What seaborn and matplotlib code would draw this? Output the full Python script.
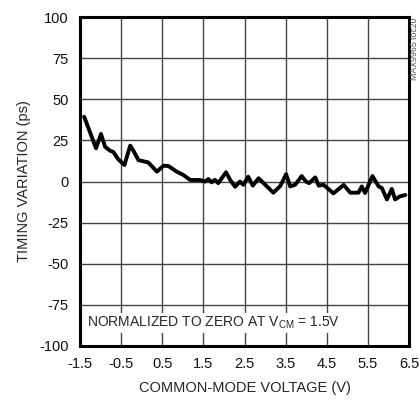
import numpy as np
import pandas as pd
import matplotlib
matplotlib.use("Agg")
import matplotlib.pyplot as plt
import seaborn as sns

# ----------------------------------
# Data
# ----------------------------------

voltage = [-1.40, -1.11, -0.99, -0.89, -0.77, -0.69, -0.57, -0.42, -0.28, -0.20,
           -0.08, 0.16, 0.37, 0.53, 0.65, 0.85, 1.01, 1.18, 1.42, 1.54,
           1.62, 1.70, 1.78, 1.86, 2.05, 2.15, 2.27, 2.39, 2.47, 2.59,
           2.70, 2.84, 3.20, 3.37, 3.51, 3.61, 3.73, 3.89, 3.99, 4.07,
           4.22, 4.30, 4.42, 4.66, 4.91, 5.07, 5.27, 5.35, 5.43, 5.61,
           5.76, 5.84, 5.96, 6.08, 6.16, 6.28, 6.41]
timing = [39.4, 20.2, 28.9, 21.1, 18.7, 18.0, 13.5, 10.0, 21.8, 18.7,
          13.0, 11.6, 6.0, 9.6, 9.4, 6.0, 4.0, 0.9, 0.9, 0.0,
          1.5, -0.5, 1.0, -1.0, 5.6, 1.0, -3.2, 0.0, -2.0, 2.9,
          -2.5, 2.0, -6.8, -2.7, 4.5, -3.0, -2.0, 3.3, 0.0, -1.0,
          2.5, -2.5, -2.0, -7.2, -2.1, -6.8, -6.8, -3.0, -7.0, 3.3,
          -3.0, -4.0, -10.9, -4.5, -10.9, -9.0, -8.2]

x_ticks = [-1.5, -0.5, 0.5, 1.5, 2.5, 3.5, 4.5, 5.5, 6.5]
y_ticks = [-100, -75, -50, -25, 0, 25, 50, 75, 100]

df = pd.DataFrame({"Voltage": voltage, "Timing": timing})

# ----------------------------------
# Style
# ----------------------------------

sns.set_style("white")
plt.rcParams["font.family"] = ["Liberation Sans", "DejaVu Sans"]
plt.rcParams["mathtext.fontset"] = "custom"
plt.rcParams["mathtext.rm"] = "Liberation Sans"

fig = plt.figure(figsize=(4.2, 4.05), dpi=100)
ax = fig.add_axes([0.1905, 0.1457, 0.7835, 0.8123])

# ----------------------------------
# Plot
# ----------------------------------

sns.lineplot(
    data=df,
    x="Voltage",
    y="Timing",
    color="black",
    linewidth=2.8,
    ax=ax
)

ax.set_xlim(-1.5, 6.5)
ax.set_ylim(-100, 100)
ax.set_xticks(x_ticks)
ax.set_yticks(y_ticks)
ax.set_xticklabels([f"{t:g}" for t in x_ticks])
ax.set_yticklabels([str(t) for t in y_ticks])

# grid at every 1 V / 25 ps
for xv in np.arange(-0.5, 6.0, 1.0):
    ax.axvline(xv, color="#444444", linewidth=1.0, zorder=0)
for yv in y_ticks[1:-1]:
    ax.axhline(yv, color="#444444", linewidth=1.0, zorder=0)

for s in ax.spines.values():
    s.set_visible(True)
    s.set_linewidth(2.2)
    s.set_color("black")

ax.tick_params(axis="both", length=0, labelsize=10.5, pad=8, colors="#111111")

ax.set_xlabel("COMMON-MODE VOLTAGE (V)", fontsize=10.5, labelpad=7)
ax.set_ylabel("TIMING VARIATION (ps)", fontsize=10.5, labelpad=6)

ax.text(
    -1.33, -86,
    r"NORMALIZED TO ZERO AT $\mathregular{V_{CM}}$ = 1.5V",
    fontsize=10,
    va="center",
    ha="left",
    bbox=dict(facecolor="white", edgecolor="none", pad=1)
)

fig.text(
    0.988, 0.957,
    "MAX9965 toc20",
    rotation=90,
    fontsize=6.3,
    color="#555555",
    ha="center",
    va="top"
)

plt.savefig("out.png", dpi=100)
plt.close()
